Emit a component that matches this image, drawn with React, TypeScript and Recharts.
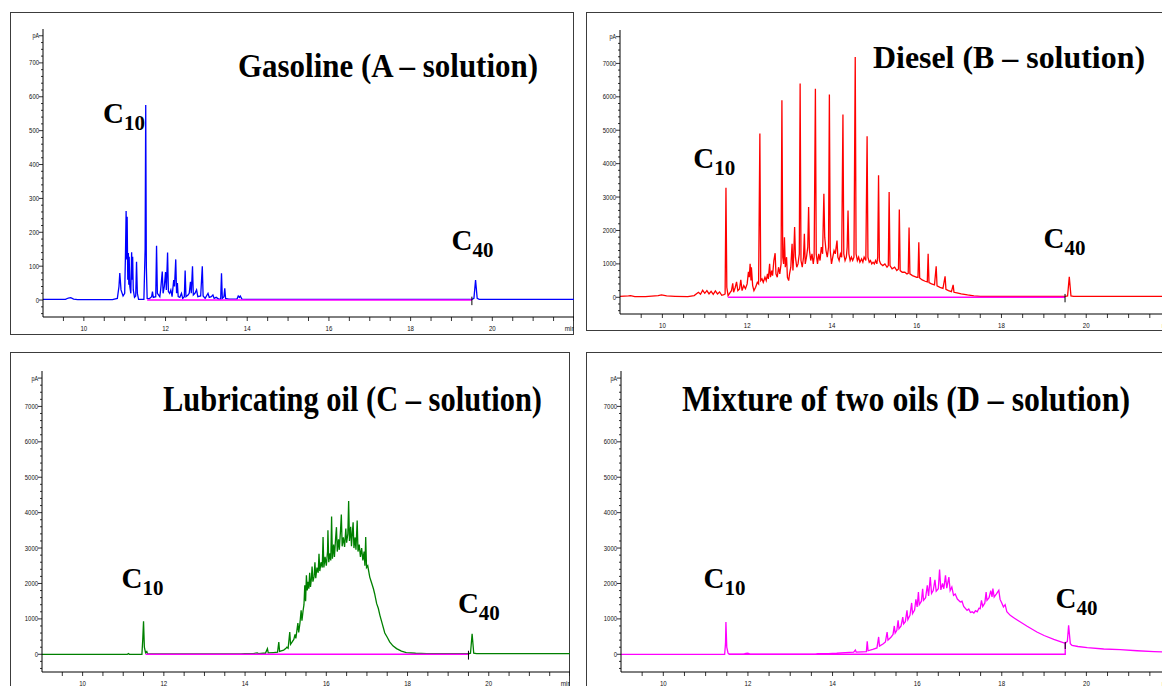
import { LineChart, Line, XAxis, YAxis, ReferenceDot, ReferenceLine } from 'recharts'

type Pt = [number, number]

// retention time (min), signal (pA)

const gasoline: Pt[] = [
  [9.0, 2], [9.55, 2], [9.62, 6], [9.68, 7], [9.75, 3], [9.85, 1], [10.7, 1], [10.82, 5],
  [10.86, 40], [10.88, 80], [10.91, 30], [10.96, 12], [11.0, 20], [11.02, 140], [11.035, 263],
  [11.05, 120], [11.06, 246], [11.075, 60], [11.09, 139], [11.1, 45], [11.11, 128], [11.125, 40],
  [11.15, 20], [11.17, 141], [11.185, 60], [11.195, 128], [11.21, 30], [11.24, 8], [11.27, 12],
  [11.29, 113], [11.31, 20], [11.34, 2], [11.47, 2], [11.5, 150], [11.515, 576], [11.53, 100],
  [11.55, 5], [11.6, 4], [11.66, 10], [11.68, 25], [11.7, 8], [11.76, 10], [11.78, 160],
  [11.8, 20], [11.86, 10], [11.88, 30], [11.92, 84], [11.94, 20], [11.97, 40], [12.0, 83],
  [12.02, 30], [12.05, 140], [12.07, 25], [12.1, 20], [12.13, 30], [12.16, 10], [12.2, 59],
  [12.22, 40], [12.25, 120], [12.27, 20], [12.29, 50], [12.31, 10], [12.35, 8], [12.39, 20],
  [12.42, 5], [12.46, 10], [12.48, 87], [12.5, 10], [12.55, 15], [12.58, 20], [12.61, 54],
  [12.63, 20], [12.66, 100], [12.68, 15], [12.72, 20], [12.76, 30], [12.79, 10], [12.86, 12],
  [12.9, 100], [12.92, 12], [12.97, 5], [13.04, 20], [13.07, 8], [13.12, 10], [13.16, 15],
  [13.19, 5], [13.24, 8], [13.3, 3], [13.35, 3], [13.37, 79], [13.39, 5], [13.43, 10],
  [13.45, 35], [13.47, 5], [13.55, 3], [13.75, 3], [13.78, 12], [13.81, 8], [13.83, 12],
  [13.87, 3], [14.0, 2], [19.5, 2], [19.55, 5], [19.59, 59], [19.63, 5], [19.68, 2], [22, 2],
]

const diesel: Pt[] = [
  [9.0, 30], [9.2, 40], [9.25, 50], [9.35, 20], [9.6, 20], [9.9, 50], [9.98, 70], [10.1, 40],
  [10.3, 30], [10.6, 20], [10.75, 50], [10.85, 150], [10.9, 90], [10.95, 210], [11.0, 120],
  [11.05, 200], [11.1, 100], [11.15, 180], [11.2, 90], [11.25, 190], [11.3, 100], [11.35, 160],
  [11.4, 60], [11.45, 80], [11.48, 100], [11.5, 3280], [11.52, 300], [11.55, 50], [11.6, 150],
  [11.63, 200], [11.66, 420], [11.68, 150], [11.72, 300], [11.75, 460], [11.78, 200],
  [11.82, 250], [11.85, 520], [11.88, 200], [11.92, 350], [11.96, 260], [12.0, 400],
  [12.03, 760], [12.05, 600], [12.07, 1000], [12.09, 500], [12.1, 900], [12.13, 350],
  [12.16, 200], [12.2, 300], [12.24, 450], [12.27, 400], [12.3, 4900], [12.32, 500],
  [12.35, 550], [12.38, 450], [12.42, 600], [12.45, 500], [12.48, 700], [12.5, 550],
  [12.53, 1000], [12.55, 600], [12.58, 800], [12.6, 650], [12.63, 1100], [12.66, 1320],
  [12.68, 700], [12.71, 600], [12.74, 900], [12.77, 700], [12.8, 1000], [12.82, 5900],
  [12.84, 1200], [12.86, 1000], [12.88, 1800], [12.9, 900], [12.93, 1200], [12.95, 600],
  [12.98, 500], [13.0, 700], [13.03, 900], [13.06, 1600], [13.08, 800], [13.1, 1300],
  [13.12, 2100], [13.14, 1200], [13.17, 900], [13.2, 1000], [13.23, 1300], [13.25, 6400],
  [13.27, 1100], [13.3, 900], [13.33, 1200], [13.35, 1900], [13.37, 1000], [13.4, 1200],
  [13.43, 1500], [13.45, 2700], [13.47, 1400], [13.5, 1100], [13.53, 1300], [13.56, 1000],
  [13.58, 1200], [13.61, 6240], [13.63, 1300], [13.66, 1000], [13.69, 1300], [13.72, 1100],
  [13.75, 1500], [13.78, 1300], [13.81, 3100], [13.83, 1800], [13.86, 1400], [13.89, 1200],
  [13.92, 1500], [13.94, 6070], [13.96, 1400], [13.99, 1000], [14.02, 1200], [14.05, 1400],
  [14.08, 1300], [14.1, 1500], [14.12, 1700], [14.14, 1200], [14.17, 1100], [14.2, 1300],
  [14.23, 1200], [14.26, 5470], [14.28, 1300], [14.31, 1100], [14.34, 1200], [14.36, 1500],
  [14.38, 2600], [14.4, 1300], [14.43, 1100], [14.46, 1200], [14.49, 1100], [14.52, 1200],
  [14.55, 7190], [14.57, 1300], [14.6, 1100], [14.63, 1200], [14.66, 1050], [14.7, 1150],
  [14.73, 1050], [14.76, 1200], [14.8, 1100], [14.83, 4820], [14.85, 1200], [14.88, 1050],
  [14.91, 1100], [14.94, 1000], [14.97, 1050], [15.0, 1000], [15.03, 1100], [15.06, 1000],
  [15.08, 1200], [15.1, 3650], [15.12, 1100], [15.15, 1000], [15.2, 950], [15.25, 1000],
  [15.3, 900], [15.33, 950], [15.35, 3150], [15.37, 950], [15.42, 850], [15.48, 900],
  [15.53, 800], [15.57, 850], [15.59, 2630], [15.61, 800], [15.66, 750], [15.72, 750],
  [15.77, 700], [15.8, 720], [15.82, 2090], [15.84, 700], [15.9, 650], [15.96, 620],
  [16.0, 600], [16.03, 600], [16.05, 1650], [16.07, 580], [16.13, 520], [16.2, 480],
  [16.25, 460], [16.27, 1300], [16.29, 440], [16.35, 400], [16.42, 370], [16.46, 930],
  [16.48, 340], [16.55, 300], [16.62, 270], [16.67, 630], [16.69, 240], [16.75, 200],
  [16.82, 170], [16.86, 370], [16.88, 150], [16.95, 130], [17.05, 100], [17.2, 70],
  [17.35, 45], [17.5, 30], [17.65, 25], [19.5, 25], [19.56, 40], [19.6, 610], [19.64, 40],
  [19.7, 25], [22, 25],
]

const lubricating: Pt[] = [
  [9.0, 0], [11.1, 0], [11.13, 20], [11.15, 0], [11.46, 0], [11.48, 400], [11.5, 930],
  [11.52, 200], [11.55, 40], [11.58, 80], [11.6, 10], [13.9, 10], [14.0, 15], [14.2, 20],
  [14.3, 40], [14.33, 20], [14.45, 30], [14.5, 30], [14.55, 160], [14.57, 40], [14.7, 50],
  [14.8, 60], [14.83, 348], [14.85, 80], [14.95, 120], [15.0, 160], [15.03, 200], [15.06, 170],
  [15.1, 630], [15.12, 280], [15.16, 350], [15.2, 420], [15.23, 560], [15.25, 450], [15.3, 880],
  [15.32, 620], [15.35, 870], [15.38, 1240], [15.4, 950], [15.43, 1250], [15.45, 1400],
  [15.47, 1950], [15.49, 1500], [15.51, 2230], [15.53, 1800], [15.55, 2050], [15.57, 1850],
  [15.59, 2300], [15.61, 1900], [15.63, 2100], [15.65, 2480], [15.67, 2050], [15.7, 2200],
  [15.72, 2600], [15.74, 2150], [15.77, 2450], [15.8, 2300], [15.82, 2840], [15.84, 2350],
  [15.87, 2600], [15.9, 2450], [15.92, 3310], [15.94, 2450], [15.97, 2750], [16.0, 2500],
  [16.03, 2900], [16.04, 3500], [16.06, 2600], [16.09, 2850], [16.11, 2650], [16.13, 3890],
  [16.15, 2700], [16.18, 3100], [16.2, 2750], [16.23, 3300], [16.25, 3590], [16.27, 2900],
  [16.3, 3250], [16.32, 2950], [16.35, 3500], [16.37, 3950], [16.39, 3050], [16.42, 3300],
  [16.45, 3030], [16.48, 3550], [16.5, 3150], [16.53, 3400], [16.55, 4330], [16.57, 3200],
  [16.6, 3600], [16.62, 3050], [16.64, 3400], [16.66, 3730], [16.68, 3000], [16.71, 3300],
  [16.73, 2950], [16.76, 3780], [16.78, 2900], [16.81, 3100], [16.84, 2750], [16.87, 3000],
  [16.9, 2650], [16.93, 2900], [16.95, 2500], [16.97, 3310], [16.99, 2450], [17.02, 2500],
  [17.07, 2180], [17.12, 2000], [17.16, 1850], [17.19, 1710], [17.24, 1430], [17.28, 1300],
  [17.32, 1100], [17.38, 850], [17.44, 600], [17.5, 480], [17.56, 350], [17.64, 240],
  [17.73, 160], [17.85, 90], [17.97, 50], [18.2, 30], [18.47, 20], [19.0, 15], [19.5, 15],
  [19.55, 30], [19.59, 580], [19.63, 30], [19.7, 18], [22, 18],
]

const mixture: Pt[] = [
  [9.0, 0], [11.45, 0], [11.47, 300], [11.48, 910], [11.5, 200], [11.53, 30], [11.56, 0],
  [11.9, 0], [11.95, 25], [12.0, 30], [12.05, 0], [13.6, 0], [13.65, 15], [13.9, 20],
  [14.1, 30], [14.3, 50], [14.5, 60], [14.54, 120], [14.56, 60], [14.7, 70], [14.8, 75],
  [14.82, 367], [14.84, 100], [14.95, 140], [15.05, 180], [15.09, 490], [15.11, 230],
  [15.2, 300], [15.25, 350], [15.29, 630], [15.31, 400], [15.38, 480], [15.43, 560],
  [15.46, 800], [15.48, 600], [15.52, 680], [15.55, 960], [15.57, 720], [15.62, 800],
  [15.66, 1050], [15.68, 860], [15.72, 920], [15.76, 1240], [15.78, 980], [15.83, 1100],
  [15.87, 1450], [15.89, 1150], [15.94, 1250], [15.97, 1550], [16.0, 1336], [16.03, 1760],
  [16.05, 1400], [16.1, 1500], [16.13, 1850], [16.15, 1524], [16.2, 1600], [16.24, 1950],
  [16.27, 1650], [16.31, 2180], [16.34, 1720], [16.38, 1800], [16.42, 2100], [16.45, 1780],
  [16.5, 1850], [16.53, 2390], [16.56, 1820], [16.6, 2000], [16.63, 1850], [16.67, 2230],
  [16.7, 1870], [16.75, 2180], [16.78, 1800], [16.82, 1900], [16.86, 1665], [16.9, 1700],
  [16.95, 1560], [17.02, 1476], [17.06, 1500], [17.1, 1350], [17.18, 1242], [17.22, 1280],
  [17.26, 1180], [17.3, 1200], [17.34, 1166], [17.38, 1230], [17.42, 1200], [17.46, 1300],
  [17.49, 1289], [17.52, 1524], [17.55, 1350], [17.6, 1450], [17.63, 1760], [17.65, 1524],
  [17.7, 1600], [17.74, 1800], [17.77, 1620], [17.79, 1853], [17.82, 1618], [17.87, 1700],
  [17.93, 1806], [17.96, 1550], [18.0, 1450], [18.04, 1336], [18.08, 1400], [18.12, 1200],
  [18.2, 1100], [18.3, 1020], [18.44, 912], [18.6, 790], [18.83, 630], [19.0, 530],
  [19.23, 423], [19.4, 350], [19.5, 310], [19.55, 360], [19.58, 818], [19.62, 300],
  [19.66, 254], [19.8, 220], [20.02, 188], [20.41, 150], [20.8, 132], [21.2, 100],
  [21.6, 75], [22, 60],
]

// integration baselines (magenta)
const baseline: Pt[] = [[11.55, 0], [19.5, 0]]
const mixtureBaseline: Pt[] = [[11.55, 0], [19.5, 0], [19.5, 330]]

// C10 / C40 markers: [text, t, pA]
const gasolineMarks: [string, number, number][] = [['10', 10.47, 523], ['40', 19.0, 148]]
const dieselMarks: [string, number, number][] = [['10', 10.73, 3860], ['40', 18.99, 1470]]
const lubricatingMarks: [string, number, number][] = [['10', 10.96, 1860], ['40', 19.24, 1160]]
const mixtureMarks: [string, number, number][] = [['10', 10.95, 1860], ['40', 19.27, 1300]]

const xTicks = [9, 9.5, 10, 10.5, 11, 11.5, 12, 12.5, 13, 13.5, 14, 14.5, 15, 15.5, 16, 16.5,
  17, 17.5, 18, 18.5, 19, 19.5, 20, 20.5, 21, 21.5, 22]
const xLabels = [10, 12, 14, 16, 18, 20]

const yLabelsSmall = [0, 100, 200, 300, 400, 500, 600, 700]
const yLabelsLarge = [0, 1000, 2000, 3000, 4000, 5000, 6000, 7000]

const range = (a: number, b: number, s: number) => {
  const out: number[] = []
  for (let v = a; v <= b + 1e-9; v += s) out.push(Math.round(v))
  return out
}

const rows = (pts: Pt[]) => pts.map(([t, v]) => ({ t, v }))

function XTick(props: any) {
  const { x, y, payload } = props
  const v = payload.value
  if (v === 9) return <g />
  const label = v === 22 ? 'min' : xLabels.includes(v) ? String(v) : ''
  return (
    <g>
      <line x1={x} x2={x} y1={y} y2={y + 4} stroke="#000" strokeWidth={0.8} />
      {label && (
        <text x={v === 22 ? x + 1 : x} y={y + 14} textAnchor={v === 22 ? 'end' : 'middle'}
          fontSize={8} fontFamily="Liberation Sans" fill="#111"
          textLength={label.length * 3.4} lengthAdjust="spacingAndGlyphs">{label}</text>
      )}
    </g>
  )
}

function YTick(props: any) {
  const { x, y, payload, majors, top } = props
  const v = payload.value
  const isTop = v === top
  const isMajor = isTop || majors.includes(v)
  const label = isTop ? 'pA' : isMajor ? String(v) : ''
  return (
    <g>
      <line x1={x - (isMajor ? 4 : 2)} x2={x} y1={y} y2={y} stroke="#000" strokeWidth={0.8} />
      {label && (
        <text x={x - 4} y={y + 2.5} textAnchor="end" fontSize={8} fontFamily="Liberation Sans"
          fill="#111" textLength={label.length * 3.3} lengthAdjust="spacingAndGlyphs">{label}</text>
      )}
    </g>
  )
}

function CarbonLabel({ cx, cy, n }: { cx: number; cy: number; n: string }) {
  return (
    <text x={cx} y={cy} fontFamily="Liberation Serif" fontWeight="bold" fontSize={29} fill="#000">
      C<tspan fontSize={21} dy={7}>{n}</tspan>
    </text>
  )
}

type PanelCfg = {
  color: string
  trace: Pt[]
  base: Pt[]
  marks: [string, number, number][]
  small: boolean
  left: number
  top: number
  width: number
  height: number
  yWidth: number
  marginTop: number
  xHeight: number
}

const panels: PanelCfg[] = [
  { color: '#0000ff', trace: gasoline, base: baseline, marks: gasolineMarks, small: true,
    left: 10, top: 12, width: 564, height: 323, yWidth: 33, marginTop: 17, xHeight: 18 },
  { color: '#ff0000', trace: diesel, base: baseline, marks: dieselMarks, small: false,
    left: 586, top: 12, width: 585, height: 319, yWidth: 34, marginTop: 18, xHeight: 17 },
  { color: '#008000', trace: lubricating, base: baseline, marks: lubricatingMarks, small: false,
    left: 10, top: 352, width: 560, height: 338, yWidth: 32, marginTop: 19, xHeight: 18 },
  { color: '#ff00ff', trace: mixture, base: mixtureBaseline, marks: mixtureMarks, small: false,
    left: 586, top: 352, width: 585, height: 338, yWidth: 35, marginTop: 19, xHeight: 18 },
]

function Panel({ cfg }: { cfg: PanelCfg }) {
  const k = cfg.small ? 1 : 10
  const majors = cfg.small ? yLabelsSmall : yLabelsLarge
  const top = 780 * k
  const yTicks = range(-40 * k, 780 * k, 20 * k)
  const isMix = cfg.base === mixtureBaseline
  return (
    <div style={{ position: 'absolute', left: cfg.left, top: cfg.top, width: cfg.width,
      height: cfg.height, outline: '1.5px solid #3c3c3c', outlineOffset: -1 }}>
      <LineChart width={cfg.width} height={cfg.height}
        margin={{ top: cfg.marginTop, right: 0, bottom: 0, left: 0 }}>
        <XAxis type="number" dataKey="t" domain={[9, 22]} ticks={xTicks} interval={0}
          allowDataOverflow height={cfg.xHeight} tickSize={0} tickMargin={0} tickLine={false}
          axisLine={{ stroke: '#000', strokeWidth: 1 }} tick={<XTick />} />
        <YAxis type="number" dataKey="v" domain={[-50 * k, 800 * k]} ticks={yTicks} interval={0}
          allowDataOverflow width={cfg.yWidth} tickSize={0} tickMargin={0} tickLine={false}
          axisLine={{ stroke: '#000', strokeWidth: 1 }} tick={<YTick majors={majors} top={top} />} />
        <Line data={rows(cfg.trace)} dataKey="v" type="linear" stroke={cfg.color}
          strokeWidth={1.3} dot={false} isAnimationActive={false} />
        <Line data={rows(cfg.base)} dataKey="v" type="linear" stroke="#ff00ff"
          strokeWidth={1.4} dot={false} isAnimationActive={false} />
        <ReferenceLine ifOverflow="extendDomain" stroke="#000" strokeWidth={1}
          segment={isMix ? [{ x: 19.5, y: 350 }, { x: 19.5, y: 150 }]
            : [{ x: 19.5, y: 10 * k }, { x: 19.5, y: -15 * k }]} />
        {cfg.marks.map(([n, t, v]) => (
          <ReferenceDot key={n} x={t} y={v} r={1}
            shape={(p: any) => <CarbonLabel cx={p.cx} cy={p.cy} n={n} />} />
        ))}
      </LineChart>
    </div>
  )
}

const titles: { text: string; x: number; y: number; size: number; len: number }[] = [
  { text: 'Gasoline (A – solution)', x: 238, y: 77, size: 34, len: 300 },
  { text: 'Diesel (B – solution)', x: 873, y: 68, size: 32, len: 272 },
  { text: 'Lubricating oil (C – solution)', x: 163, y: 411, size: 36, len: 379 },
  { text: 'Mixture of two oils (D – solution)', x: 682, y: 411, size: 36, len: 448 },
]

export default function App() {
  return (
    <div style={{ position: 'relative', width: 1162, height: 686, overflow: 'hidden', background: '#fff' }}>
      <style>{'body{margin:0}'}</style>
      {panels.map((p, i) => <Panel key={i} cfg={p} />)}
      <svg width={1162} height={686} style={{ position: 'absolute', left: 0, top: 0, pointerEvents: 'none' }}>
        {titles.map((t) => (
          <text key={t.text} x={t.x} y={t.y} fontFamily="Liberation Serif" fontWeight="bold"
            fontSize={t.size} fill="#000" textLength={t.len} lengthAdjust="spacingAndGlyphs">
            {t.text}
          </text>
        ))}
      </svg>
    </div>
  )
}
